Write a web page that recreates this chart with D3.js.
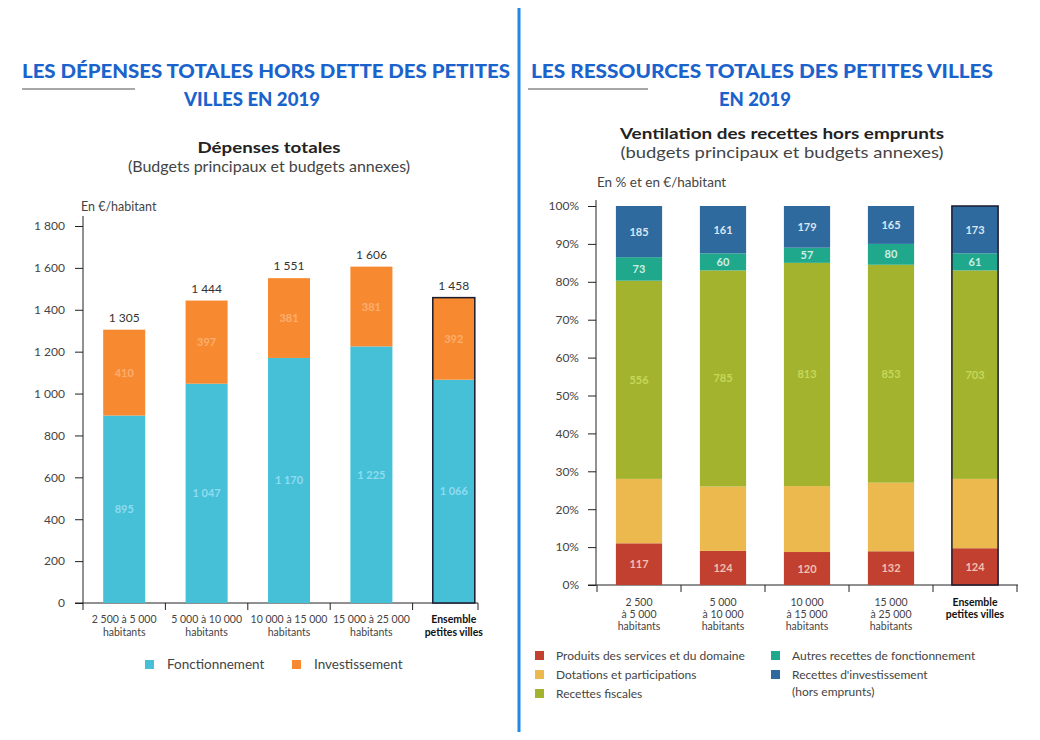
<!DOCTYPE html>
<html>
<head>
<meta charset="UTF-8">
<title>Petites villes 2019</title>
<script src="https://cdn.jsdelivr.net/npm/d3@7/dist/d3.min.js"></script>
<style>
  body { margin: 0; background: #fff; font-family: Lato, "Open Sans", sans-serif; }
  svg text { font-family: Lato, "Open Sans", sans-serif; }
  .axis path, .axis line { stroke: #222; }
  .axis text { fill: #444; font-size: 12px; }
</style>
</head>
<body>
<svg id="chart" width="1040" height="740"></svg>
<script>
// ---- left chart data (€/habitant) ----
var depCategories = ["2 500 à 5 000|habitants", "5 000 à 10 000|habitants", "10 000 à 15 000|habitants",
                     "15 000 à 25 000|habitants", "Ensemble|petites villes"];
var depFonctionnement = [895, 1047, 1170, 1225, 1066];
var depInvestissement = [410, 397, 381, 381, 392];
var depTotals = ["1 305", "1 444", "1 551", "1 606", "1 458"];
var depTicks = [0, 200, 400, 600, 800, 1000, 1200, 1400, 1600, 1800];

// ---- right chart data (% of receipts, labels in €/habitant) ----
var recCategories = ["2 500|à 5 000|habitants", "5 000|à 10 000|habitants", "10 000|à 15 000|habitants",
                     "15 000|à 25 000|habitants", "Ensemble|petites villes"];
var recSeries = ["Produits des services et du domaine", "Dotations et participations", "Recettes fiscales",
                 "Autres recettes de fonctionnement", "Recettes d'investissement"];
var recProduits = [11, 9, 8.7, 8.9, 9.7];
var recDotations = [17, 17, 17.4, 18.1, 18.3];
var recFiscales = [52.3, 57, 58.9, 57.5, 55];
var recAutres = [6.2, 4.5, 4, 5.5, 4.5];
var recInvest = [13.5, 12.5, 11, 10, 12.5];
var recLabProduits = [117, 124, 120, 132, 124];
var recLabFiscales = [556, 785, 813, 853, 703];
var recLabAutres = [73, 60, 57, 80, 61];
var recLabInvest = [185, 161, 179, 165, 173];
var recTicks = [0, 10, 20, 30, 40, 50, 60, 70, 80, 90, 100];

var svg = d3.select("#chart");
var TITLE_BLUE = "#1b63cc";

// separator
svg.append("line").attr("x1", 519).attr("x2", 519).attr("y1", 8).attr("y2", 732)
   .attr("stroke", "#1e8ae6").attr("stroke-width", 3);

// headings (stretched to the width they take in the layout)
function heading(lines, cx, widths, ruleX1, ruleX2) {
    lines.forEach(function(t, i) {
        svg.append("text").attr("x", cx[i]).attr("y", 78 + i * 28).attr("text-anchor", "middle")
           .attr("fill", TITLE_BLUE).style("font-size", "18px").style("font-weight", 900)
           .attr("textLength", widths[i]).attr("lengthAdjust", "spacingAndGlyphs")
           .text(t);
    });
    svg.append("line").attr("x1", ruleX1).attr("x2", ruleX2).attr("y1", 89).attr("y2", 89)
       .attr("stroke", "#8a8a8a").attr("stroke-width", 1.5);
}
heading(["LES DÉPENSES TOTALES HORS DETTE DES PETITES", "VILLES EN 2019"], [266, 252], [488, 136], 22, 135);
heading(["LES RESSOURCES TOTALES DES PETITES VILLES", "EN 2019"], [762, 755], [462, 72], 528, 648);

function subtitle(cx, y1, t1, w1, t2, w2) {
    svg.append("text").attr("x", cx).attr("y", y1).attr("text-anchor", "middle")
       .attr("fill", "#222").style("font-size", "16px").style("font-weight", 700)
       .attr("textLength", w1).attr("lengthAdjust", "spacingAndGlyphs").text(t1);
    svg.append("text").attr("x", cx).attr("y", y1 + 19).attr("text-anchor", "middle")
       .attr("fill", "#444").style("font-size", "15px")
       .attr("textLength", w2).attr("lengthAdjust", "spacingAndGlyphs").text(t2);
}
subtitle(269, 153, "Dépenses totales", 143, "(Budgets principaux et budgets annexes)", 282);
subtitle(782, 139, "Ventilation des recettes hors emprunts", 324, "(budgets principaux et budgets annexes)", 323);

// x labels helper
function catLabels(g, x, cats, y0, lh) {
    cats.forEach(function(c, i) {
        var last = i === cats.length - 1;
        c.split("|").forEach(function(line, j) {
            g.append("text").attr("x", x(c) + x.bandwidth() / 2).attr("y", y0 + j * lh)
             .attr("text-anchor", "middle").attr("fill", last ? "#111" : "#444")
             .style("font-size", "10.5px").style("font-weight", last ? 700 : 400).text(line);
        });
    });
}

// ================= left chart =================
var gL = svg.append("g");
var xL = d3.scaleBand().domain(depCategories).range([83, 495]).paddingInner(0.49).paddingOuter(0.245);
var yL = d3.scaleLinear().domain([0, 1800]).range([603, 226]);
var fmt = function(d) { return d3.format(",")(d).replace(/,/g, " "); };

gL.append("g").attr("class", "axis").attr("transform", "translate(83,0)")
  .call(d3.axisLeft(yL).tickValues(depTicks).tickFormat(fmt).tickSize(8).tickPadding(10))
  .call(function(g) { g.select(".domain").attr("d", "M0,216V603"); });
gL.append("line").attr("x1", 75).attr("x2", 478).attr("y1", 603).attr("y2", 603).attr("stroke", "#222");
depCategories.forEach(function(c) {
    var x0 = xL(c) - (xL.step() - xL.bandwidth()) / 2;
    gL.append("line").attr("x1", x0).attr("x2", x0).attr("y1", 603).attr("y2", 610).attr("stroke", "#222");
});
gL.append("line").attr("x1", 478).attr("x2", 478).attr("y1", 603).attr("y2", 610).attr("stroke", "#222");

gL.append("text").attr("x", 81).attr("y", 211).attr("fill", "#444").style("font-size", "12.5px").text("En €/habitant");

var depColors = ["#46c0d7", "#f78a31"];
var depLabelColors = ["#8fdcf0", "#fbae6e"];
var depStack = d3.stack().keys([0, 1])(depCategories.map(function(c, i) {
    return { 0: depFonctionnement[i], 1: depInvestissement[i] };
}));
depStack.forEach(function(layer, k) {
    gL.selectAll(null).data(layer).enter().append("rect")
      .attr("x", function(d, i) { return xL(depCategories[i]); })
      .attr("width", xL.bandwidth())
      .attr("y", function(d) { return yL(d[1]); })
      .attr("height", function(d) { return yL(d[0]) - yL(d[1]); })
      .attr("fill", depColors[k]);
    gL.selectAll(null).data(layer).enter().append("text")
      .attr("x", function(d, i) { return xL(depCategories[i]) + xL.bandwidth() / 2; })
      .attr("y", function(d) { return (yL(d[0]) + yL(d[1])) / 2 + 4; })
      .attr("text-anchor", "middle").attr("fill", depLabelColors[k])
      .style("font-size", "11px").style("font-weight", 700)
      .text(function(d) { return fmt(d[1] - d[0]); });
});
// highlight last bar
var lastL = depCategories[depCategories.length - 1];
gL.append("rect").attr("x", xL(lastL)).attr("width", xL.bandwidth())
  .attr("y", yL(depFonctionnement[4] + depInvestissement[4]))
  .attr("height", yL(0) - yL(depFonctionnement[4] + depInvestissement[4]))
  .attr("fill", "none").attr("stroke", "#1a1a2e").attr("stroke-width", 1.5);
// totals
gL.selectAll(null).data(depCategories).enter().append("text")
  .attr("x", function(c) { return xL(c) + xL.bandwidth() / 2; })
  .attr("y", function(c, i) { return yL(depFonctionnement[i] + depInvestissement[i]) - 8; })
  .attr("text-anchor", "middle").attr("fill", "#333").style("font-size", "12px")
  .text(function(c, i) { return depTotals[i]; });
catLabels(gL, xL, depCategories, 623, 13);

// left legend
[["Fonctionnement", 150], ["Investissement", 297]].forEach(function(d, i) {
    gL.append("rect").attr("x", d[1] - 5).attr("y", 660).attr("width", 9).attr("height", 9).attr("fill", depColors[i]);
    gL.append("text").attr("x", d[1] + 17).attr("y", 669).attr("fill", "#444").style("font-size", "13.5px").text(d[0]);
});

// ================= right chart =================
var gR = svg.append("g");
var xR = d3.scaleBand().domain(recCategories).range([597, 1017]).paddingInner(0.45).paddingOuter(0.225);
var yR = d3.scaleLinear().domain([0, 100]).range([585, 206]);

gR.append("g").attr("class", "axis").attr("transform", "translate(596,0)")
  .call(d3.axisLeft(yR).tickValues(recTicks).tickFormat(function(d) { return d + "%"; }).tickSize(8).tickPadding(9))
  .call(function(g) { g.select(".domain").attr("d", "M0,200V585"); });
gR.append("line").attr("x1", 588).attr("x2", 1018).attr("y1", 585).attr("y2", 585).attr("stroke", "#222");
recCategories.forEach(function(c) {
    var x0 = xR(c) - (xR.step() - xR.bandwidth()) / 2;
    gR.append("line").attr("x1", x0).attr("x2", x0).attr("y1", 585).attr("y2", 592).attr("stroke", "#222");
});
gR.append("line").attr("x1", 1017).attr("x2", 1017).attr("y1", 585).attr("y2", 592).attr("stroke", "#222");

gR.append("text").attr("x", 597).attr("y", 187).attr("fill", "#444").style("font-size", "13.5px").text("En % et en €/habitant");

var recColors = ["#c1402f", "#ebb94e", "#a3b32d", "#1fa88b", "#2f6a9e"];
var recValues = [recProduits, recDotations, recFiscales, recAutres, recInvest];
var recLabels = [recLabProduits, null, recLabFiscales, recLabAutres, recLabInvest];
var recLabelColors = ["#f2c0b0", null, "#c6d85a", "#cdeee4", "#dbe6f2"];
var recStack = d3.stack().keys([0, 1, 2, 3, 4])(recCategories.map(function(c, i) {
    var o = {};
    recValues.forEach(function(v, k) { o[k] = v[i]; });
    return o;
}));
recStack.forEach(function(layer, k) {
    gR.selectAll(null).data(layer).enter().append("rect")
      .attr("x", function(d, i) { return xR(recCategories[i]); })
      .attr("width", xR.bandwidth())
      .attr("y", function(d) { return yR(d[1]); })
      .attr("height", function(d) { return yR(d[0]) - yR(d[1]); })
      .attr("fill", recColors[k]);
    if (recLabels[k]) {
        gR.selectAll(null).data(layer).enter().append("text")
          .attr("x", function(d, i) { return xR(recCategories[i]) + xR.bandwidth() / 2; })
          .attr("y", function(d) { return (yR(d[0]) + yR(d[1])) / 2 + 4; })
          .attr("text-anchor", "middle").attr("fill", recLabelColors[k])
          .style("font-size", "11px").style("font-weight", 700)
          .text(function(d, i) { return recLabels[k][i]; });
    }
});
var lastR = recCategories[recCategories.length - 1];
gR.append("rect").attr("x", xR(lastR)).attr("width", xR.bandwidth())
  .attr("y", yR(100)).attr("height", yR(0) - yR(100))
  .attr("fill", "none").attr("stroke", "#1a1a2e").attr("stroke-width", 1.5);
catLabels(gR, xR, recCategories, 606, 12);

// right legend
var recLegend = [
    { s: 0, x: 540, y: 660, lines: [recSeries[0]] },
    { s: 1, x: 540, y: 679, lines: [recSeries[1]] },
    { s: 2, x: 540, y: 698, lines: [recSeries[2]] },
    { s: 3, x: 776, y: 660, lines: [recSeries[3]] },
    { s: 4, x: 776, y: 679, lines: [recSeries[4], "(hors emprunts)"] }
];
recLegend.forEach(function(d) {
    gR.append("rect").attr("x", d.x - 5).attr("y", d.y - 9).attr("width", 9).attr("height", 9).attr("fill", recColors[d.s]);
    d.lines.forEach(function(t, j) {
        gR.append("text").attr("x", d.x + 16).attr("y", d.y + j * 17).attr("fill", "#444")
          .style("font-size", "12px").text(t);
    });
});
</script>
</body>
</html>
